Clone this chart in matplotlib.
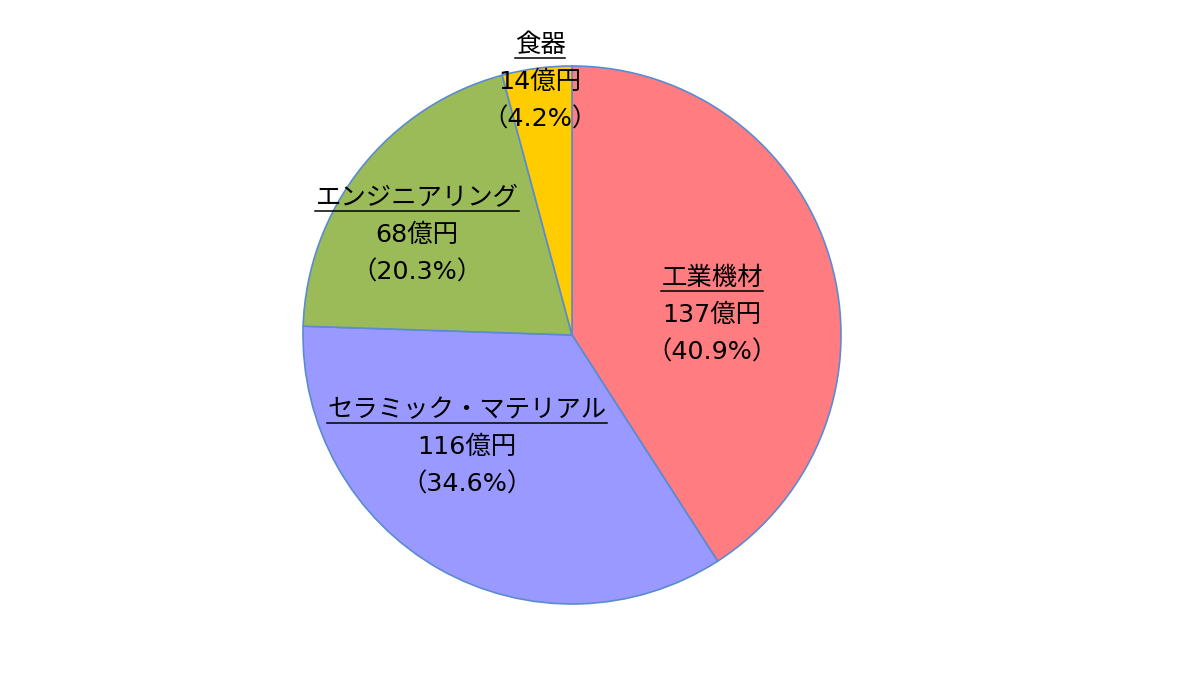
import matplotlib
matplotlib.use("Agg")
import matplotlib.pyplot as plt
from matplotlib.lines import Line2D

plt.rcParams['font.family'] = ['DejaVu Sans', 'Noto Sans CJK JP']

categories = ['工業機材', 'セラミック・マテリアル', 'エンジニアリング', '食器']
values = [137, 116, 68, 14]
percents = ['40.9%', '34.6%', '20.3%', '4.2%']
colors = ['#FF7C80', '#9999FF', '#9BBB59', '#FFCC00']

# label anchor positions (pixel coords of the first line centre in the reference)
label_px = [(712, 278), (467, 410), (417, 198), (540, 45)]

W, H = 1200, 674
fig = plt.figure(figsize=(12, 6.74), dpi=100)
cx, cy, r = 572, 335, 269
ax = fig.add_axes([(cx - r) / W, (H - cy - r) / H, 2 * r / W, 2 * r / H])
ax.pie(values, colors=colors, startangle=90, counterclock=False, radius=1,
       wedgeprops=dict(edgecolor='#5B8BD0', linewidth=1.2))
ax.set_xlim(-1, 1)
ax.set_ylim(-1, 1)
ax.set_aspect('equal')
ax.axis('off')

fs = 18.3
line_gap = 37
texts = []
for cat, val, pct, (px, py) in zip(categories, values, percents, label_px):
    lines = [cat, f'{val}億円', f'（{pct}）']
    for i, s in enumerate(lines):
        t = fig.text(px / W, 1 - (py + i * line_gap) / H, s, ha='center', va='center',
                     fontsize=fs, color='#000000')
        if i == 0:
            texts.append(t)

fig.canvas.draw()
renderer = fig.canvas.get_renderer()
for t in texts:
    bb = t.get_window_extent(renderer)
    y = bb.y0 - 1
    fig.add_artist(Line2D([bb.x0 / W, bb.x1 / W], [y / H, y / H], transform=fig.transFigure,
                          color='#000000', linewidth=1.1))

fig.savefig('out.png', dpi=100)
